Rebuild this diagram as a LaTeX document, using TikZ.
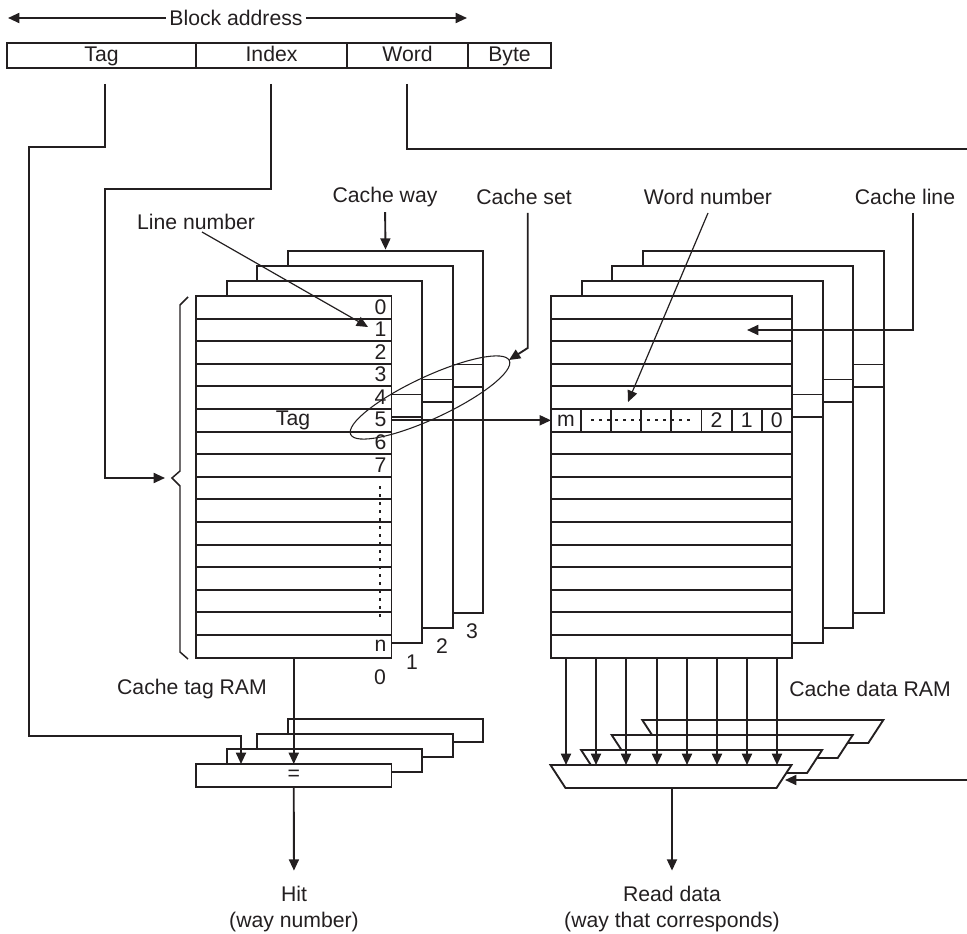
\documentclass[tikz,border=0pt]{standalone}
\usepackage{xcolor}
\usepackage{fontspec}
\setmainfont{Liberation Sans}
\usetikzlibrary{positioning,shapes,arrows.meta,calc}
\definecolor{ink}{HTML}{231F20}

\begin{document}
\begin{tikzpicture}[
    x=0.75pt, y=-0.75pt,
    every node/.style={inner sep=0pt, outer sep=0pt, text=ink},
    wire/.style={draw=ink, line width=1.4pt},
    flow/.style={wire, -{Triangle[length=8.5pt,width=7.5pt]}},
    thinflow/.style={draw=ink, line width=0.9pt, -{Triangle[length=8.5pt,width=7.5pt]}},
    lbl/.style={font=\fontsize{15.9}{19.5}\selectfont, align=center},
    field/.style={wire, lbl, minimum height=25*0.75pt, text height=11.5pt, text depth=3pt},
    tagframe/.style={wire, fill=white, minimum width=195.5*0.75pt, minimum height=362*0.75pt},
    dataframe/.style={wire, fill=white, minimum width=241*0.75pt, minimum height=362*0.75pt},
    tagrowbox/.style={wire, minimum width=195.5*0.75pt, minimum height=22.6*0.75pt},
    datarowbox/.style={wire, minimum width=241*0.75pt, minimum height=22.6*0.75pt},
    cellbox/.style={wire, lbl, minimum width=30.12*0.75pt, minimum height=22.6*0.75pt},
    cmpbox/.style={wire, fill=white, lbl, minimum width=195.5*0.75pt, minimum height=23*0.75pt}
]
\useasboundingbox (0,0) rectangle (967,934);

\node[lbl] (blockaddr) at (236,18) {\,Block address\,};
\coordinate (addrleft) at (8,18);
\coordinate (addrright) at (467,18);
\draw[flow] (blockaddr.west) -- (addrleft);
\draw[flow] (blockaddr.east) -- (addrright);

\node[field, minimum width=189*0.75pt] (tagfield) at (101.5,55.5) {Tag};
\node[field, minimum width=151*0.75pt] (indexfield) at (271.5,55.5) {Index};
\node[field, minimum width=121*0.75pt] (wordfield) at (407.5,55.5) {Word};
\node[field, minimum width=83*0.75pt] (bytefield) at (509.5,55.5) {Byte};

\foreach \w in {3,2,1} {
    \node[tagframe] (tagway\w) at ({293.75+30.6*\w},{477-15*\w}) {};
    \draw[wire] ($(tagway\w.north west)+(0,113.5)$) -- ++(195.5,0);
    \draw[wire] ($(tagway\w.north west)+(0,136)$) -- ++(195.5,0);
    \node[dataframe] (dataway\w) at ({671.5+30.6*\w},{477-15*\w}) {};
    \draw[wire] ($(dataway\w.north west)+(0,113.5)$) -- ++(241,0);
    \draw[wire] ($(dataway\w.north west)+(0,136)$) -- ++(241,0);
}
\node[tagframe] (tagway0) at (293.75,477) {};
\node[dataframe] (dataway0) at (671.5,477) {};
\foreach \i in {0,...,15} {
    \node[tagrowbox] (tagrow\i) at (293.75,{307.3+22.6*\i}) {};
    \node[datarowbox] (datarow\i) at (671.5,{307.3+22.6*\i}) {};
}
\foreach \i/\t in {0/0,1/1,2/2,3/3,4/4,5/5,6/6,7/7,15/n}
    \node[lbl] (linenum\i) at ($(tagrow\i.east)+(-11,-0.5)$) {\t};
\draw[draw=ink, line width=1.3pt, dash pattern=on 2.4pt off 3.6pt] ($(tagrow8.east)+(-11.5,-2)$) -- ($(tagrow14.east)+(-11.5,-2)$);

\foreach \i/\t in {0/m,1/,2/,3/,4/,5/2,6/1,7/0}
    \node[cellbox] (datacell\i) at ({566+30.12*\i},420.3) {\t};
\draw[draw=ink, line width=1.3pt, dash pattern=on 2.4pt off 3.6pt] ($(datacell1.west)+(10,0)$) -- ($(datacell4.east)+(-10,0)$);

\node[lbl] (tagname) at (293,420) {Tag};
\node[lbl] (wayzero) at (380,677) {0};
\node[lbl] (wayone) at (412,662) {1};
\node[lbl] (waytwo) at (442,646) {2};
\node[lbl] (waythree) at (472,631) {3};

\coordinate (bracetop) at (188,297);
\coordinate (bracetip) at (172,478);
\coordinate (bracebot) at (188,659);
\draw[draw=ink, line width=1.1pt] (bracetop) -- (180,305) -- (180,471) -- (bracetip) -- (180,486) -- (180,652) -- (bracebot);

\node[draw=ink, line width=0.8pt, ellipse, rotate=25, minimum width=175*0.75pt, minimum height=42*0.75pt] (setoval) at (430,397.5) {};

\node[lbl] (cachetagram) at (192,689) {Cache tag RAM};
\node[lbl] (cachedataram) at (870,689) {Cache data RAM};
\node[lbl] (cacheway) at (385,197) {Cache way};
\node[lbl] (cacheset) at (524,197) {Cache set};
\node[lbl] (wordnumber) at (708,197) {Word number};
\node[lbl] (cacheline) at (905,197) {Cache line};
\node[lbl] (linenumber) at (196,222) {Line number};
\node[lbl] (hit) at (294,909.5) {Hit\\(way number)};
\node[lbl] (readdata) at (672,909.5) {Read data\\(way that corresponds)};

\foreach \w/\t in {3/,2/,1/,0/=}
    \node[cmpbox] (tagcmp\w) at ({293.75+30.6*\w},{775.5-15*\w}) {\t};
\foreach \w in {3,2,1,0} {
    \coordinate (muxcorner\w) at ({550.5+30.6*\w},{765-15*\w});
    \draw[wire, fill=white] (muxcorner\w) -- ++(241,0) -- ++(-15,23) -- ++(-211,0) -- cycle;
}

\coordinate (tagdrop) at (105,84);
\coordinate (indexdrop) at (271,84);
\coordinate (indextip) at (165,478);
\coordinate (worddrop) at (407,84);
\coordinate (wordright) at (967,149);
\coordinate (muxright) at (967,780);
\coordinate (muxin) at (785,780);
\coordinate (muxout) at (672,788);
\coordinate (linefrom) at (202,232);
\coordinate (lineto) at (368,327);
\coordinate (setdrop) at (527.7,213);
\coordinate (setbend) at (527.7,348);
\coordinate (setto) at (509,360);
\coordinate (worddiag) at (708,213);
\coordinate (wordto) at (628,402);
\coordinate (linedrop) at (913,213);
\coordinate (lineleft) at (747,330);

\draw[flow] (tagdrop) |- (29,147) -- (29,736) -- (241,736) -- (241,0 |- tagcmp0.north);
\draw[flow] (indexdrop) |- (105,189) |- (indextip);
\draw[wire] (worddrop) |- (wordright);
\draw[flow] (muxright) -- (muxin);
\draw[thinflow] (linefrom) -- (lineto);
\draw[flow] (setdrop) -- (setbend) -- (setto);
\draw[thinflow] (worddiag) -- (wordto);
\draw[flow] (linedrop) |- (lineleft);
\draw[flow, shorten <=4pt, shorten >=1pt] (cacheway.south) -- (tagway3.north);
\draw[flow] (tagrow5.east) -- (datarow5.west);
\draw[flow] (tagway0.south) -- (tagcmp0.north);
\draw[flow, shorten >=12pt] (tagcmp0.south) -- (hit.north);
\draw[flow, shorten >=12pt] (muxout) -- (readdata.north);
\foreach \x in {566,596,626,657,687,717,747,777}
    \draw[flow] (\x,0 |- dataway0.south) -- (\x,0 |- muxcorner0);
\end{tikzpicture}
\end{document}
